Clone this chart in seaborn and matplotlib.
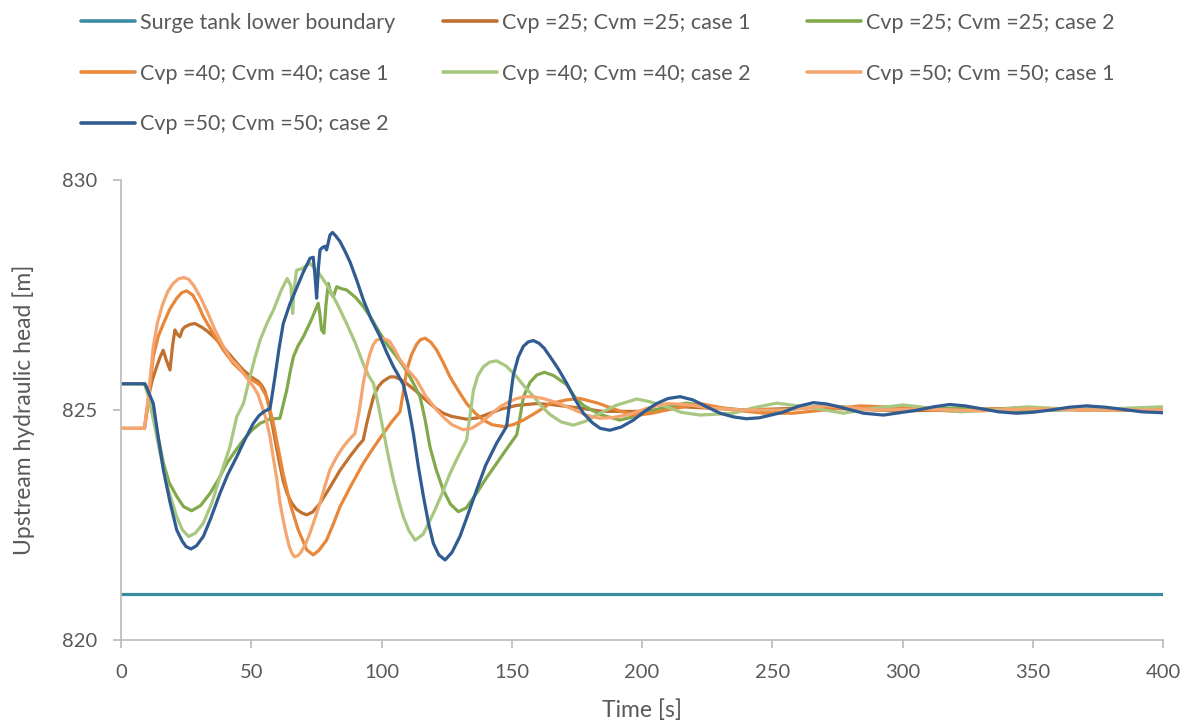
import numpy as np
import pandas as pd
import matplotlib
matplotlib.use("Agg")
import matplotlib.pyplot as plt
from matplotlib.lines import Line2D
import seaborn as sns

# ---- data: upstream hydraulic head [m] versus time [s] ----
surge_t = [0, 400]
surge_h = [821.0, 821.0]

c25_1_t = [0, 9, 10, 11, 12, 13.7, 15, 16.2, 17.3, 18.8, 19.8, 20.7, 21.6, 22.6, 23.6, 24.6, 26.5, 28.4,
           31, 33, 35.4, 38.5, 41.8, 44.5, 46.9, 50, 52.7, 54.2, 55.3, 56.5, 58, 59.8, 61, 62.3, 63.8,
           65.5, 67.4, 69.5, 71.3, 73.5, 76.4, 80, 84.1, 88, 91, 93, 94.3, 95.6, 97, 98.8, 100.5, 103.3,
           105, 107.1, 110, 113.5, 116, 118.6, 121, 123.7, 127, 132.7, 137, 141.7, 146, 151.9, 159.6,
           165, 175, 185, 200, 215, 240, 265, 300, 340, 370, 400]
c25_1_h = [824.6, 824.6, 825.0, 825.4, 825.65, 825.94, 826.15, 826.3, 826.1, 825.87, 826.4, 826.74,
           826.65, 826.59, 826.75, 826.81, 826.86, 826.88, 826.8, 826.72, 826.6, 826.42, 826.2, 826.02,
           825.87, 825.72, 825.62, 825.52, 825.4, 825.15, 824.7, 824.15, 823.8, 823.45, 823.18, 822.98,
           822.84, 822.76, 822.72, 822.78, 822.97, 823.3, 823.69, 824.0, 824.22, 824.35, 824.7, 825.0,
           825.3, 825.51, 825.62, 825.72, 825.72, 825.67, 825.56, 825.4, 825.27, 825.14, 825.03, 824.93,
           824.86, 824.8, 824.83, 824.93, 825.02, 825.1, 825.14, 825.12, 825.05, 824.97, 824.97, 825.07,
           825.0, 825.05, 824.98, 825.03, 825.0, 825.0]

c25_2_t = [0, 9, 10.5, 12.4, 14.3, 16.3, 18.5, 21.4, 24, 27.1, 30.5, 34.2, 37.5, 40.6, 44, 47, 50, 53.4,
           57, 61.0, 62.2, 63.6, 65, 66.2, 68, 70, 73, 75.7, 76.3, 77.0, 77.9, 78.7, 79.6, 80.5, 81.5,
           82.8, 84.5, 86.6, 90, 93, 96, 99.4, 102.5, 105.8, 108.5, 110.9, 112.8, 114.8, 116.7, 118.6,
           121, 123.7, 126.5, 129.5, 132.5, 136.5, 140, 144.2, 148, 151.9, 153.2, 154.5, 157, 159.6,
           162.5, 166, 171.1, 174, 177.5, 184, 191.5, 200, 208, 217, 230, 245, 258, 271, 290, 320, 350,
           375, 400]
c25_2_h = [825.57, 825.57, 825.4, 825.0, 824.4, 823.84, 823.42, 823.12, 822.9, 822.81, 822.92, 823.19,
           823.5, 823.84, 824.12, 824.35, 824.55, 824.71, 824.8, 824.82, 825.1, 825.43, 825.85, 826.16,
           826.4, 826.59, 826.95, 827.32, 827.1, 826.74, 826.67, 827.3, 827.75, 827.55, 827.46, 827.68,
           827.64, 827.61, 827.45, 827.25, 827.0, 826.67, 826.4, 826.16, 825.95, 825.72, 825.52, 825.29,
           824.8, 824.2, 823.7, 823.26, 822.95, 822.79, 822.87, 823.19, 823.5, 823.84, 824.15, 824.46,
           824.85, 825.29, 825.6, 825.76, 825.82, 825.75, 825.55, 825.3, 825.1, 824.9, 824.78, 824.9,
           825.05, 825.15, 825.05, 824.96, 825.02, 825.1, 825.0, 825.04, 824.98, 825.03, 825.02]

c40_1_t = [0, 9, 10.5, 12.4, 14.3, 16.3, 18.8, 21.4, 23.3, 25.2, 27.5, 29.5, 31.6, 35.5, 39.3, 43, 47,
           50.2, 53.4, 55.9, 57.2, 58.5, 60.4, 62.3, 65, 68, 71.3, 73.8, 76, 78.9, 81.5, 84.1, 88.5, 93,
           96.9, 100.7, 104, 107.1, 108.4, 109.7, 111.5, 113.5, 115, 116.8, 119, 121.2, 123.7, 126.3,
           129.5, 132.7, 136, 139.1, 142.5, 146.8, 150.5, 154.4, 159.5, 164.7, 171.1, 176.2, 183, 190.3,
           196.7, 203, 209.5, 222.3, 235, 247, 258, 270, 283.7, 300, 320, 345, 370, 400]
c40_1_h = [824.6, 824.6, 825.2, 826.16, 826.6, 826.88, 827.2, 827.43, 827.55, 827.59, 827.5, 827.3,
           827.03, 826.65, 826.3, 826.02, 825.8, 825.66, 825.54, 825.29, 825.0, 824.71, 824.15, 823.6,
           822.95, 822.4, 821.96, 821.85, 821.95, 822.17, 822.52, 822.9, 823.38, 823.84, 824.18, 824.49,
           824.75, 824.96, 825.4, 825.87, 826.2, 826.43, 826.53, 826.56, 826.47, 826.3, 826.03, 825.72,
           825.42, 825.14, 824.93, 824.78, 824.68, 824.64, 824.68, 824.78, 824.95, 825.14, 825.22,
           825.25, 825.15, 825.0, 824.89, 824.92, 825.0, 825.14, 825.0, 824.93, 824.93, 825.0, 825.09,
           825.05, 824.97, 825.05, 825.0, 825.0]

c40_2_t = [0, 9, 10.5, 12.4, 15, 18, 21.4, 23.5, 25.9, 28.5, 31.6, 35, 38, 41.8, 44.4, 47, 49.5, 51.5,
           53.4, 56, 58.5, 61.5, 63.8, 65.2, 65.9, 66.4, 67.4, 69.4, 72.5, 75.1, 77.5, 80.2, 83.5, 86.6,
           90, 93, 95, 96.9, 98.8, 100.7, 102.6, 104.5, 106.5, 108.4, 110.5, 112.9, 116, 119.9, 123,
           126.3, 129.5, 132.7, 134, 135.3, 137, 139.1, 141.5, 144.2, 148, 151.9, 155, 158.3, 161.5,
           164.7, 169, 173.7, 178.5, 183.9, 190, 198, 203, 209.5, 215, 222.3, 235, 243, 251.7, 265,
           277.3, 288, 300.3, 311, 322.1, 335, 347.7, 360, 373.3, 386, 400]
c40_2_h = [825.57, 825.57, 825.3, 824.8, 824.06, 823.3, 822.68, 822.4, 822.25, 822.32, 822.54, 823.0,
           823.55, 824.2, 824.85, 825.14, 825.72, 826.15, 826.52, 826.88, 827.17, 827.6, 827.86, 827.7,
           827.1, 827.6, 828.04, 828.07, 828.19, 828.04, 827.85, 827.61, 827.25, 826.88, 826.45, 826.0,
           825.75, 825.58, 825.1, 824.55, 824.0, 823.5, 823.05, 822.68, 822.38, 822.17, 822.3, 822.75,
           823.15, 823.62, 824.0, 824.35, 824.9, 825.43, 825.75, 825.94, 826.04, 826.07, 825.95, 825.72,
           825.5, 825.3, 825.08, 824.9, 824.74, 824.67, 824.76, 824.93, 825.1, 825.24, 825.18, 825.07,
           824.95, 824.89, 824.93, 825.05, 825.15, 825.05, 824.93, 825.03, 825.11, 825.04, 824.96,
           825.0, 825.07, 825.03, 825.0, 825.04, 825.07]

c50_1_t = [0, 9, 10.5, 12.4, 14, 16, 18, 20, 22, 24.2, 26, 28, 30.5, 33, 36, 39.3, 42, 45, 48, 50.8,
           52.5, 54, 55.7, 57.2, 58.5, 59.8, 61, 62.3, 63.5, 64.5, 65.5, 66.5, 67.8, 69, 70.8, 72.5,
           74.5, 76.5, 78.3, 80.2, 82.8, 85.3, 87.5, 89.8, 91.5, 93, 94.3, 95.6, 96.8, 98.1, 100.5, 103,
           105, 107, 110, 113.5, 117, 121.2, 124, 127, 131.4, 134.5, 138, 141.5, 145.5, 149, 152, 155,
           158.3, 162, 165, 170, 175, 179, 183.9, 189, 195, 202, 209.5, 217, 225, 238.9, 255, 270.9,
           290, 310, 330, 350, 375, 400]
c50_1_h = [824.6, 824.6, 825.3, 826.38, 826.9, 827.3, 827.58, 827.75, 827.85, 827.88, 827.84, 827.7,
           827.45, 827.15, 826.75, 826.38, 826.12, 825.95, 825.72, 825.51, 825.35, 825.1, 824.8, 824.42,
           823.95, 823.5, 823.0, 822.6, 822.28, 822.05, 821.9, 821.81, 821.83, 821.9, 822.08, 822.32,
           822.65, 823.0, 823.35, 823.7, 823.98, 824.2, 824.35, 824.49, 825.0, 825.58, 825.95, 826.23,
           826.42, 826.52, 826.56, 826.5, 826.32, 826.1, 825.88, 825.65, 825.3, 825.0, 824.83, 824.68,
           824.57, 824.6, 824.72, 824.88, 825.07, 825.18, 825.25, 825.29, 825.29, 825.25, 825.2, 825.1,
           824.98, 824.88, 824.82, 824.84, 824.9, 825.04, 825.14, 825.12, 825.05, 825.0, 825.0, 825.09,
           825.0, 825.02, 824.98, 825.03, 825.0, 825.0]

c50_2_t = [0, 9.2, 10.5, 12.4, 14.3, 16.3, 18.8, 21.4, 23.5, 25, 26.9, 29, 31.6, 34.5, 38, 41, 44.4,
           47.5, 50.8, 53, 55, 57.2, 58.1, 59.1, 60.7, 62.3, 64.8, 67.4, 70, 72.6, 73.8, 74.5, 75.1,
           75.8, 76.4, 77.3, 78.3, 78.9, 79.5, 80.2, 81.2, 82.5, 84.1, 86, 87.9, 90.5, 93, 96, 99.4, 102,
           104.5, 106.5, 108.4, 110.3, 112.2, 114.2, 116.1, 118, 119.9, 122, 124.4, 127, 130.1, 133,
           136.5, 140, 144.2, 146, 148, 149.3, 150.6, 152.5, 154.4, 156.3, 158.3, 160.5, 162.5, 164.7,
           167.8, 171.1, 174.3, 177.5, 181, 184, 187.7, 192, 196.7, 201, 205.6, 210, 214.6, 219.5,
           224.8, 230, 235.1, 240, 245, 254, 260, 265.8, 271, 277, 285, 292.7, 300, 305, 312, 318.2,
           324, 330, 337, 343.8, 350, 357, 364, 370.7, 378, 385, 392, 400]
c50_2_h = [825.57, 825.57, 825.4, 825.14, 824.4, 823.69, 823.0, 822.39, 822.15, 822.03, 821.98,
           822.05, 822.25, 822.65, 823.19, 823.6, 823.98, 824.35, 824.71, 824.88, 824.97, 825.03,
           825.35, 825.72, 826.35, 826.88, 827.3, 827.65, 828.0, 828.3, 828.32, 827.9, 827.43, 828.1,
           828.48, 828.53, 828.56, 828.48, 828.62, 828.8, 828.86, 828.78, 828.66, 828.45, 828.22,
           827.82, 827.4, 826.98, 826.6, 826.25, 825.95, 825.75, 825.55, 825.1, 824.5, 823.75, 823.12,
           822.55, 822.1, 821.85, 821.74, 821.9, 822.25, 822.7, 823.26, 823.8, 824.28, 824.45, 824.64,
           825.2, 825.76, 826.15, 826.38, 826.48, 826.51, 826.45, 826.34, 826.16, 825.9, 825.58,
           825.23, 824.93, 824.72, 824.6, 824.56, 824.63, 824.78, 824.97, 825.14, 825.25, 825.29,
           825.22, 825.07, 824.93, 824.85, 824.81, 824.83, 824.95, 825.08, 825.16, 825.13, 825.05,
           824.93, 824.89, 824.95, 824.99, 825.07, 825.12, 825.09, 825.03, 824.96, 824.93, 824.95,
           825.0, 825.06, 825.09, 825.06, 825.01, 824.96, 824.94]

labels = [
    "Surge tank lower boundary",
    "Cvp =25; Cvm =25; case 1",
    "Cvp =25; Cvm =25; case 2",
    "Cvp =40; Cvm =40; case 1",
    "Cvp =40; Cvm =40; case 2",
    "Cvp =50; Cvm =50; case 1",
    "Cvp =50; Cvm =50; case 2",
]
series = [(surge_t, surge_h), (c25_1_t, c25_1_h), (c25_2_t, c25_2_h), (c40_1_t, c40_1_h),
          (c40_2_t, c40_2_h), (c50_1_t, c50_1_h), (c50_2_t, c50_2_h)]
colors = ["#3B8BA1", "#C0712F", "#82A94B", "#E8873A", "#A8C780", "#F5A56F", "#305C92"]
palette = dict(zip(labels, colors))

frames = [pd.DataFrame({"Time": t, "Head": h, "Series": name})
          for name, (t, h) in zip(labels, series)]
df = pd.concat(frames, ignore_index=True)

# ---- styling ----
sns.set_theme(style="white")
plt.rcParams["font.family"] = ["Lato", "DejaVu Sans"]
text_color = "#595959"
axis_color = "#BFBFBF"

fig = plt.figure(figsize=(11.89, 7.26), dpi=100)
W, H = 1189, 726
ax = fig.add_axes([121 / W, (H - 640) / H, (1163 - 121) / W, (640 - 180) / H])

sns.lineplot(data=df, x="Time", y="Head", hue="Series", hue_order=labels, palette=palette,
             estimator=None, sort=False, linewidth=2.3, legend=False, ax=ax)
for line in ax.lines:
    line.set_solid_joinstyle("round")
    line.set_solid_capstyle("round")

ax.set_xlim(0, 400)
ax.set_ylim(820, 830)
ax.set_xticks(np.arange(0, 401, 50))
ax.set_yticks([820, 825, 830])

for side in ("top", "right"):
    ax.spines[side].set_visible(False)
for side in ("left", "bottom"):
    ax.spines[side].set_color(axis_color)
    ax.spines[side].set_linewidth(1.3)

ax.tick_params(axis="both", which="major", direction="out", length=6, width=1.3,
               color=axis_color, labelcolor=text_color, labelsize=14.5, pad=11,
               bottom=True, left=True)
ax.set_xlabel("Time [s]", fontsize=16.5, color=text_color)
ax.set_ylabel("Upstream hydraulic head [m]", fontsize=16.5, color=text_color)
ax.xaxis.set_label_coords(0.5, -0.128)
ax.yaxis.set_label_coords(-0.083, 0.5)

# ---- legend: three columns laid out row by row above the plot ----
handles = [Line2D([], [], color=c, lw=2.6) for c in colors]
columns = [[0, 3, 6], [1, 4], [2, 5]]
col_x = [81, 443, 807]
for xpos, idx in zip(col_x, columns):
    fig.legend([handles[i] for i in idx], [labels[i] for i in idx],
               loc="upper left", bbox_to_anchor=(xpos / W, (H - 13) / H),
               bbox_transform=fig.transFigure, frameon=False, fontsize=15.5,
               handlelength=2.5, handletextpad=0.25, labelspacing=1.42,
               borderaxespad=0, borderpad=0, labelcolor=text_color)

fig.savefig("out.png", dpi=100)
